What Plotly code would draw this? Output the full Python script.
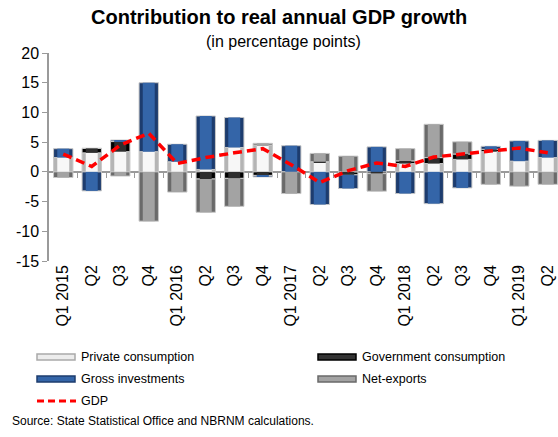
import plotly.graph_objects as go

quarters = ["Q1 2015", "Q2", "Q3", "Q4", "Q1 2016", "Q2", "Q3", "Q4", "Q1 2017", "Q2",
            "Q3", "Q4", "Q1 2018", "Q2", "Q3", "Q4", "Q1 2019", "Q2"]
private_consumption = [2.4, 3.2, 3.4, 3.4, 1.7, 0.4, 4.1, 4.5, 0.0, 1.6, 0.0, 0.0, 1.4, 1.4, 2.1, 3.4, 1.8, 2.4]
government_consumption = [0.0, 0.75, 1.7, 0.0, 0.0, -1.2, -1.1, -0.6, 0.0, 0.1, -0.5, -0.3, 0.45, 1.0, 0.9, 0.4, 0.0, 0.0]
gross_investments = [1.5, -3.2, 0.25, 11.6, 2.95, 9.0, 5.05, -0.25, 4.4, -5.5, -2.3, 4.2, -3.65, -5.35, -2.7, 0.5, 3.4, 2.9]
net_exports = [-0.95, 0.0, -0.7, -8.3, -3.4, -5.6, -4.7, 0.3, -3.65, 1.4, 2.65, -2.95, 2.05, 5.6, 2.05, -2.1, -2.4, -2.1]
gdp = [3.0, 0.9, 4.5, 6.5, 1.4, 2.4, 3.2, 3.9, 1.2, -1.8, 0.2, 1.5, 0.9, 2.5, 3.0, 3.5, 4.0, 3.2]
y_ticks = [20, 15, 10, 5, 0, -5, -10, -15]

idx = list(range(len(quarters)))
FONT = "Liberation Sans, Arial, sans-serif"

series = [
    ("Private consumption", private_consumption, "#b4b4b4", "#f7f7f7"),
    ("Government consumption", government_consumption, "#000000", "#2e2e2e"),
    ("Gross investments", gross_investments, "#1d3c6e", "#3465a8"),
    ("Net-exports", net_exports, "#6a6a6a", "#a3a3a3"),
]

fig = go.Figure()
for name, vals, dark, light in series:
    fig.add_trace(go.Bar(x=idx, y=vals, name=name, width=0.68,
                         marker=dict(color=dark, line=dict(color="#c8c8c8", width=1)),
                         showlegend=False, hoverinfo="skip"))
for name, vals, dark, light in series:
    fig.add_trace(go.Bar(x=idx, y=vals, name=name, width=0.42, xaxis="x2",
                         marker=dict(color=light, line=dict(width=0)),
                         showlegend=False, hoverinfo="skip"))
fig.add_trace(go.Scatter(x=idx, y=gdp, mode="lines", name="GDP", xaxis="x2",
                         line=dict(color="#ff0000", width=3.5, dash="9px,5px"),
                         showlegend=False, hoverinfo="skip"))

L, R, T, B, W, H = 49, 0, 53, 176, 558, 437
pw, ph = W - L - R, H - T - B
def px(p):
    return (p - L) / pw
def py(p):
    return (H - B - p) / ph

xr = [-0.5, 17.36]
zero_pos = (0 - y_ticks[-1]) / (y_ticks[0] - y_ticks[-1])

fig.update_layout(
    width=W, height=H, margin=dict(l=L, r=R, t=T, b=B),
    paper_bgcolor="white", plot_bgcolor="white",
    barmode="relative", bargap=0.3,
    font=dict(family=FONT, color="#000000"),
    xaxis=dict(range=xr, tickmode="array", tickvals=idx, ticktext=quarters,
               tickangle=-90, tickfont=dict(size=16), showline=False, ticks="",
               showgrid=False, zeroline=False),
    xaxis2=dict(range=xr, overlaying="x", anchor="free", position=zero_pos,
                tickmode="array", tickvals=[i + 0.5 for i in idx[:-1]],
                showticklabels=False, ticks="outside", ticklen=5, tickcolor="#9a9a9a",
                showline=True, linecolor="#9a9a9a", linewidth=1.5, showgrid=False,
                zeroline=False, layer="below traces"),
    yaxis=dict(range=[y_ticks[-1], y_ticks[0]], tickmode="array", tickvals=y_ticks,
               ticktext=[str(v) for v in y_ticks], tickfont=dict(size=16),
               showline=True, linecolor="#9a9a9a", linewidth=1.5, ticks="outside",
               ticklen=5, tickcolor="#9a9a9a", showgrid=False, zeroline=False),
)

ann = [
    dict(text="<b>Contribution to real annual GDP growth</b>", x=px(279), y=py(17),
         font=dict(size=20)),
    dict(text="(in percentage points)", x=px(283), y=py(42), font=dict(size=16)),
]
for a in ann:
    a.update(xref="paper", yref="paper", showarrow=False, xanchor="center", yanchor="middle")

shapes = []
legend_items = [
    ("Private consumption", 37, 357, "#a9a9a9", "#ececec"),
    ("Government consumption", 318, 357, "#000000", "#333333"),
    ("Gross investments", 37, 379, "#1d3c6e", "#3465a8"),
    ("Net-exports", 318, 379, "#6a6a6a", "#a3a3a3"),
]
for text, x0, yc, dark, light in legend_items:
    shapes.append(dict(type="rect", xref="paper", yref="paper",
                       x0=px(x0), x1=px(x0 + 38), y0=py(yc - 3), y1=py(yc + 3),
                       fillcolor=light, line=dict(color=dark, width=1.5)))
    ann.append(dict(text=text, x=px(x0 + 42), y=py(yc), xref="paper", yref="paper",
                    showarrow=False, xanchor="left", yanchor="middle", font=dict(size=12.5)))
shapes.append(dict(type="line", xref="paper", yref="paper", x0=px(37), x1=px(76),
                   y0=py(401), y1=py(401), line=dict(color="#ff0000", width=3, dash="7px,4px")))
ann.append(dict(text="GDP", x=px(79), y=py(401), xref="paper", yref="paper",
                showarrow=False, xanchor="left", yanchor="middle", font=dict(size=12.5)))
ann.append(dict(text="Source: State Statistical Office and NBRNM calculations.", x=px(10), y=py(421),
                xref="paper", yref="paper", showarrow=False, xanchor="left", yanchor="middle",
                font=dict(size=12)))

fig.update_layout(annotations=ann, shapes=shapes)
fig.write_html("out.html")
